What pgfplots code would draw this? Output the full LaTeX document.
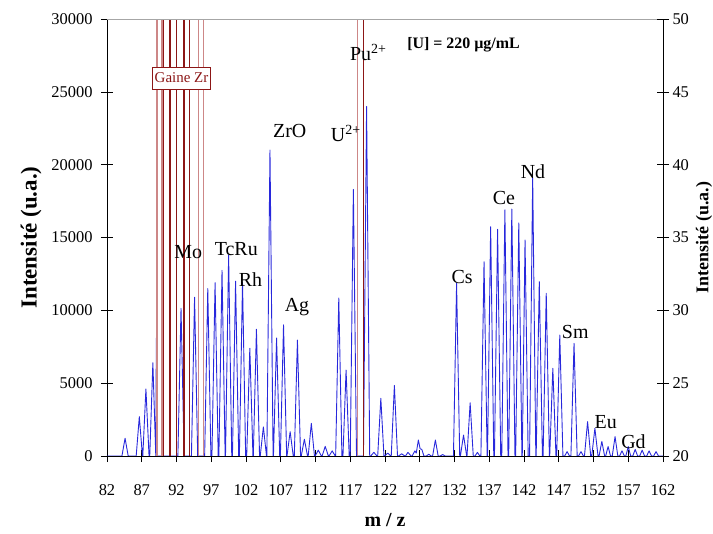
\documentclass[border=0pt]{standalone}
\usepackage{fontspec}
\setmainfont{Liberation Serif}
\usepackage{pgfplots}
\usepackage{pgfplotstable}
\pgfplotsset{compat=1.18}
\usetikzlibrary{calc}

\definecolor{specblue}{RGB}{40,40,220}
\definecolor{zrdark}{RGB}{140,22,22}
\definecolor{zrlight}{RGB}{205,135,135}

% spectre : m/z  intensite
\pgfplotstableread{
x y
82 0
84.15 0
84.6 1220
85.05 0
86.2 0
86.65 2700
87.1 0
87.15 0
87.6 4600
88.05 0
88.15 0
88.6 6400
89.02 0
89.1 8100
89.2 0
92.2 0
92.65 10140
93.1 0
94.15 0
94.6 10900
95.05 0
96.05 0
96.5 11500
96.95 0
97.1 0
97.55 11900
98.0 0
98.1 0
98.55 12750
99.0 0
99.05 0
99.5 13800
99.95 0
100.05 0
100.5 12000
100.95 0
101.05 0
101.5 11900
101.95 0
102.1 0
102.55 7400
103.0 0
103.05 0
103.5 8700
103.95 0
104.05 0
104.5 2000
104.95 0
105.0 0
105.45 21000
105.9 0
105.95 0
106.4 8100
106.85 0
106.95 0
107.4 9000
107.85 0
107.9 0
108.35 1670
108.8 0
108.95 0
109.4 7960
109.85 0
109.95 0
110.4 1150
110.85 0
110.95 0
111.4 2240
111.85 0
111.95 0
112.4 400
112.85 0
112.95 0
113.4 660
113.85 0
113.95 0
114.4 350
114.85 0
114.9 0
115.35 10850
115.8 0
115.95 0
116.4 5900
116.85 0
117.0 0
117.45 18300
117.9 0
118.9 0
119.35 24000
119.8 0
119.95 0
120.4 250
120.85 0
120.95 0
121.4 3960
121.85 0
121.95 0
122.4 200
122.85 0
122.9 0
123.35 4850
123.8 0
123.95 0
124.4 150
124.85 0
124.95 0
125.3 250
125.75 0
125.9 0
126.3 350
126.5 200
126.8 1100
127.05 500
127.3 450
127.6 0
127.95 0
128.3 120
128.65 0
128.85 0
129.25 1100
129.65 0
129.95 0
130.3 100
130.65 0
131.85 0
132.3 11860
132.75 0
132.85 0
133.3 1440
133.75 0
133.8 0
134.25 3650
134.7 0
134.95 0
135.3 250
135.65 0
135.8 0
136.25 13340
136.7 0
136.75 0
137.2 15740
137.65 0
137.75 0
138.2 15560
138.65 0
138.8 0
139.25 16900
139.7 0
139.8 0
140.25 16950
140.7 0
140.8 0
141.25 16000
141.7 0
141.75 0
142.15 14830
142.6 0
142.8 0
143.25 19100
143.7 0
143.75 0
144.2 11970
144.65 0
144.75 0
145.2 11170
145.65 0
145.7 0
146.15 6020
146.6 0
146.7 0
147.15 8300
147.6 0
147.85 0
148.2 300
148.55 0
148.75 0
149.2 7740
149.65 0
149.85 0
150.2 300
150.55 0
150.7 0
151.15 2360
151.6 0
151.75 0
152.2 1900
152.65 0
152.8 0
153.2 1000
153.6 0
153.75 0
154.1 650
154.45 0
154.7 0
155.1 1330
155.5 0
155.75 0
156.1 350
156.45 0
156.65 0
157.0 650
157.35 0
157.65 0
158.0 450
158.35 0
158.65 0
159.0 400
159.35 0
159.65 0
160.0 350
160.35 0
160.65 0
161.0 300
161.35 0
162 0
}\spectre

\begin{document}
\begin{tikzpicture}[
	lbl/.style = {anchor=base, font=\fontsize{20}{22}\selectfont},
]

\begin{axis}[
	name=ax,
	scale only axis,
	width=556bp, height=437bp,
	xmin=82, xmax=162,
	ymin=0, ymax=30000,
	axis x line*=bottom,
	axis y line*=left,
	axis line style={line width=0.6pt, black},
	xtick={82,87,...,162},
	ytick={0,5000,...,30000},
	tick align=center,
	major tick length=12bp,
	tick style={line width=0.6pt, black},
	scaled y ticks=false,
	/pgf/number format/assume math mode=true,
	/pgf/number format/1000 sep={},
	ticklabel style={font=\fontsize{16.5}{18}\selectfont},
	xticklabel style={yshift=-19bp},
	yticklabel style={xshift=-5bp},
	xlabel={\bfseries m / z},
	xlabel style={font=\fontsize{20}{22}\selectfont, yshift=-11bp},
	ylabel={\bfseries Intensité (u.a.)},
	ylabel style={font=\fontsize{23}{25}\selectfont, yshift=3bp},
	clip mode=individual,
]

\addplot [specblue, line width=0.9pt, line join=round] table [x=x, y=y] {\spectre};

% pics Zr et Pu hors echelle
\addplot [ycomb, zrlight, line width=1.3pt] coordinates {
	(89.19,30000) (89.91,30000) (95.14,30000) (95.91,30000) (118.07,30000)
};
\addplot [ycomb, zrdark, line width=1.3pt] coordinates {
	(90.15,30000) (90.96,30000) (91.1,30000) (91.97,30000)
	(93.08,30000) (93.9,30000) (118.88,30000)
};

\draw [gray!70, line width=0.6pt] (rel axis cs:0,1) -- (rel axis cs:1,1);

\node [draw=zrdark, fill=white, text=zrdark, line width=0.9pt,
	inner xsep=2.5bp, inner ysep=6bp, font=\fontsize{15}{16}\selectfont]
	at (axis cs:92.72,25950) {Gaine Zr};

\node [lbl] at (axis cs:93.7,13572) {Mo};
\node [lbl] at (axis cs:100.6,13730) {TcRu};
\node [lbl] at (axis cs:102.65,11622) {Rh};
\node [lbl] at (axis cs:109.34,9886) {Ag};
\node [lbl] at (axis cs:108.29,21879) {ZrO};
\node [lbl] at (axis cs:116.36,21577) {U\textsuperscript{2+}};
\node [lbl] at (axis cs:119.6,27117) {Pu\textsuperscript{2+}};
\node [anchor=base, font=\fontsize{16}{18}\selectfont\bfseries]
	at (axis cs:133.3,27990) {[U] = 220 µg/mL};
\node [lbl] at (axis cs:133.1,11856) {Cs};
\node [lbl] at (axis cs:139.1,17231) {Ce};
\node [lbl] at (axis cs:143.3,19064) {Nd};
\node [lbl] at (axis cs:149.37,8080) {Sm};
\node [lbl] at (axis cs:153.77,1902) {Eu};
\node [lbl] at (axis cs:157.76,529) {Gd};
\end{axis}

\begin{axis}[
	at={(ax.south west)}, anchor=south west,
	scale only axis,
	width=556bp, height=437bp,
	xmin=82, xmax=162,
	ymin=20, ymax=50,
	axis x line=none,
	axis y line*=right,
	axis line style={line width=0.6pt, black},
	ytick={20,25,...,50},
	tick align=center,
	major tick length=12bp,
	tick style={line width=0.6pt, black},
	/pgf/number format/assume math mode=true,
	ticklabel style={font=\fontsize{16.5}{18}\selectfont},
	ylabel={\bfseries Intensité (u.a.)},
	ylabel style={font=\fontsize{18}{20}\selectfont},
]
\end{axis}

\pgfresetboundingbox
\path ($(ax.south west)+(-107bp,-78bp)$) rectangle ($(ax.north east)+(50bp,19bp)$);
\end{tikzpicture}
\end{document}
